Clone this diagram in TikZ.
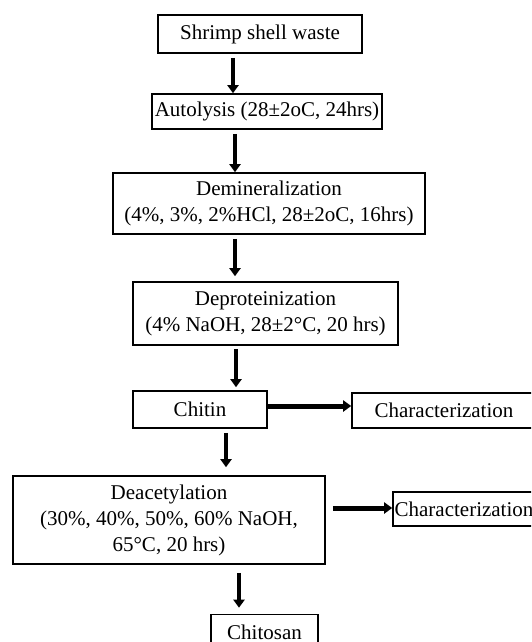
\documentclass[tikz,border=0pt]{standalone}
\usepackage{fontspec}
\setmainfont{Liberation Serif}
\usetikzlibrary{arrows.meta}

\begin{document}
\begin{tikzpicture}[x=1pt,y=-1pt,
    box/.style={draw,line width=1.6pt,inner sep=0pt,align=center,
      font=\fontsize{21}{26}\selectfont},
    flow/.style={-{Triangle[width=11pt,length=8pt]},line width=4pt},
    side/.style={-{Triangle[width=11pt,length=8pt]},line width=5pt}]
      \clip (0,0) rectangle (531,642);

      \node[box,minimum width=204pt,minimum height=38pt] (shrimp) at (260,34) {Shrimp shell waste};
      \node[box,minimum width=230pt,minimum height=35pt] (autol) at (267,111.5) {Autolysis (28±2oC, 24hrs)};
      \node[box,minimum width=312pt,minimum height=61pt] (demin) at (269,203.5)
            {Demineralization\\(4\%, 3\%, 2\%HCl, 28±2oC, 16hrs)};
      \node[box,minimum width=265pt,minimum height=63pt] (depro) at (265.5,313.5)
            {Deproteinization\\(4\% NaOH, 28±2°C, 20 hrs)};
      \node[box,minimum width=134pt,minimum height=37pt] (chitin) at (200,409.5) {Chitin};
      \node[box,minimum width=184pt,minimum height=35pt] (char1) at (444,410.5) {Characterization};
      \node[box,minimum width=312pt,minimum height=88pt] (deacet) at (169,520)
            {Deacetylation\\(30\%, 40\%, 50\%, 60\% NaOH,\\65°C, 20 hrs)};
      \node[box,minimum width=142pt,minimum height=34pt] (char2) at (464,509) {Characterization};
      \node[box,minimum width=107pt,minimum height=35pt] (chitosan) at (264.5,632) {Chitosan};

      \draw[flow,shorten <=4pt] ([xshift=-27pt]shrimp.south) -- ([xshift=-34pt]autol.north);
      \draw[flow,shorten <=4pt] ([xshift=-32pt]autol.south) -- ([xshift=-34pt]demin.north);
      \draw[flow,shorten <=4pt,shorten >=5pt] ([xshift=-34pt]demin.south) -- ([xshift=-30.5pt]depro.north);
      \draw[flow,shorten <=3pt,shorten >=3pt] ([xshift=-29.5pt]depro.south) -- ([xshift=36pt]chitin.north);
      \draw[side] ([yshift=3.5pt]chitin.east) -- ([yshift=4.5pt]char1.west);
      \draw[flow,shorten <=4pt,shorten >=8pt] ([xshift=26pt]chitin.south) -- ([xshift=57pt]deacet.north);
      \draw[side,shorten <=7pt] ([yshift=12pt]deacet.east) -- ([yshift=1pt]char2.west);
      \draw[flow,shorten <=8pt,shorten >=6pt] ([xshift=70pt]deacet.south) -- ([xshift=-25.5pt]chitosan.north);
\end{tikzpicture}
\end{document}
